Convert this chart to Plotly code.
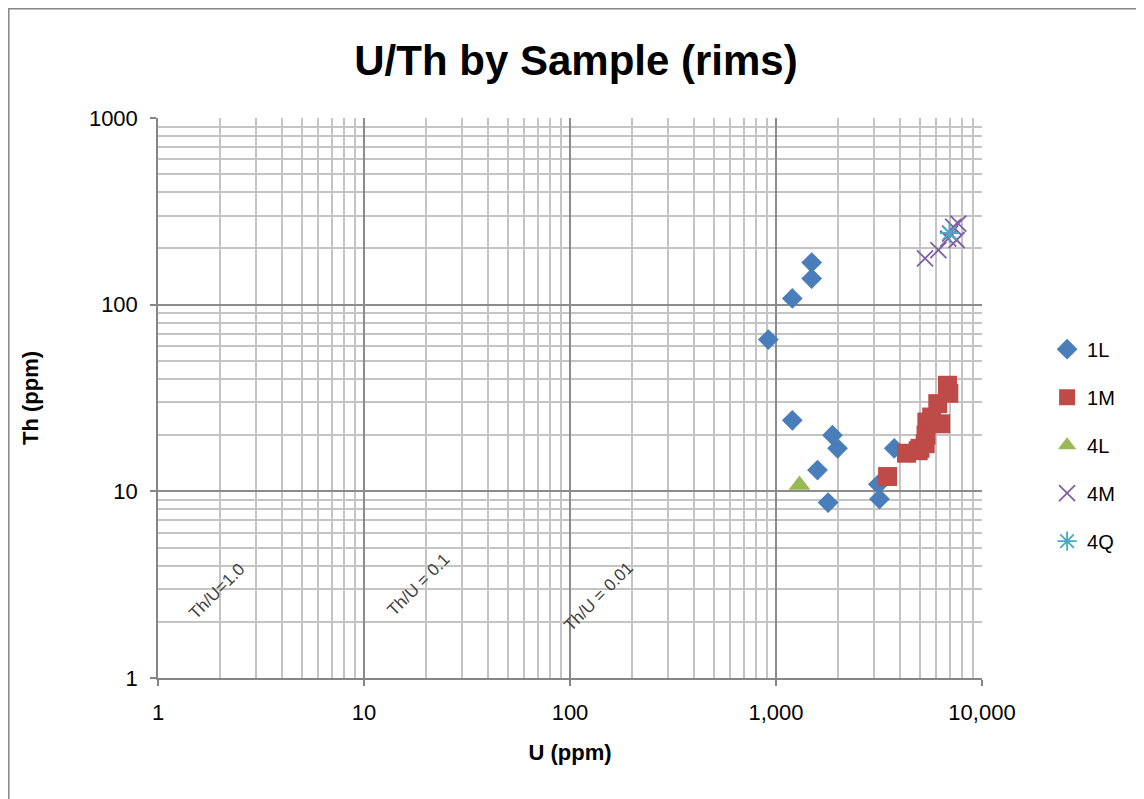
import math
import plotly.graph_objects as go

# ---- data ----
u_1L = [1490, 1490, 1200, 918, 1200, 1880, 1990, 1590, 1790, 3750, 3140, 3180]
th_1L = [168, 138, 108, 65, 24, 20, 17, 13, 8.7, 17, 10.9, 9.1]

u_1M = [3480, 4300, 4900, 5000, 5300, 5350, 5400, 6300, 6100, 6800, 6900, 5700]
th_1M = [12, 16, 16.5, 17, 18, 20, 23.5, 23, 29.5, 37, 33.5, 25]

u_4L = [1300]
th_4L = [10.8]

u_4M = [5290, 6140, 6860, 7670, 7250, 7530, 7000]
th_4M = [177, 196, 226, 272, 261, 222, 240]

u_4Q = [6950]
th_4Q = [242]

ratio_labels = ["Th/U=1.0", "Th/U = 0.1", "Th/U = 0.01"]
ratio_label_x = [1.93, 18.5, 138]
ratio_label_y = [2.9, 3.15, 2.73]

title_text = "U/Th by Sample (rims)"
x_title = "U (ppm)"
y_title = "Th (ppm)"
x_tickvals = [1, 10, 100, 1000, 10000]
x_ticktext = ["1", "10", "100", "1,000", "10,000"]
y_tickvals = [1, 10, 100, 1000]
y_ticktext = ["1", "10", "100", "1000"]

FONT = "Liberation Sans"

fig = go.Figure()
fig.add_trace(go.Scatter(x=u_1L, y=th_1L, mode="markers", name="1L", legendgroup="a",
                         marker=dict(symbol="diamond", size=16, color="#4a7ebb")))
fig.add_trace(go.Scatter(x=u_1M, y=th_1M, mode="markers", name="1M", legendgroup="b",
                         marker=dict(symbol="square", size=19, color="#be4b48")))
fig.add_trace(go.Scatter(x=u_4L, y=th_4L, mode="markers", name="4L", legendgroup="c",
                         marker=dict(symbol="triangle-up", size=19, color="#98b954")))
fig.add_trace(go.Scatter(x=u_4M, y=th_4M, mode="markers", name="4M", legendgroup="d",
                         marker=dict(symbol="x-thin", size=16, color="#7d60a0",
                                     line=dict(width=1.8, color="#7d60a0"))))
fig.add_trace(go.Scatter(x=u_4Q, y=th_4Q, mode="markers", name="4Q", legendgroup="e",
                         marker=dict(symbol="asterisk", size=16, color="#46aac5",
                                     line=dict(width=1.8, color="#46aac5"))))

for t, x, y in zip(ratio_labels, ratio_label_x, ratio_label_y):
    fig.add_annotation(x=math.log10(x), y=math.log10(y), xref="x", yref="y", text=t,
                       showarrow=False, textangle=-45,
                       font=dict(family=FONT, size=17, color="#404040"),
                       xanchor="center", yanchor="middle")

axis_common = dict(
    type="log", showline=True, linecolor="#868686", linewidth=1.5,
    showgrid=True, gridcolor="#8c8c8c", gridwidth=1.5,
    ticks="outside", ticklen=6, tickcolor="#868686", tickwidth=1.5,
    tickfont=dict(family=FONT, size=22, color="black"),
    ticklabelstandoff=8,
    zeroline=False, mirror=False,
    minor=dict(dtick="D1", showgrid=True, gridcolor="#c4c4c4", gridwidth=1.5, ticks=""),
)

fig.update_xaxes(range=[0, 4], tickmode="array", tickvals=x_tickvals, ticktext=x_ticktext,
                 title=dict(text="<b>" + x_title + "</b>", font=dict(family=FONT, size=22, color="black"),
                            standoff=20),
                 **axis_common)
fig.update_yaxes(range=[0, 3], tickmode="array", tickvals=y_tickvals, ticktext=y_ticktext,
                 title=dict(text="<b>" + y_title + "</b>", font=dict(family=FONT, size=22, color="black"),
                            standoff=44),
                 **axis_common)

# outer chart frame (page body has an 8px offset)
fig.add_shape(type="rect", xref="paper", yref="paper",
              x0=(0.8 - 150) / 824, x1=1.21, y0=-0.24, y1=(670 - 0.8) / 560,
              line=dict(color="#868686", width=1.5), fillcolor="rgba(0,0,0,0)", layer="below")

fig.update_layout(
    width=1144, height=799,
    margin=dict(l=150, r=170, t=110, b=129),
    paper_bgcolor="white", plot_bgcolor="white",
    title=dict(text="<b>" + title_text + "</b>", x=0.4965, xanchor="center", y=0.935, yanchor="middle",
               font=dict(family=FONT, size=42, color="black")),
    legend=dict(x=1.079, y=0.622, xanchor="left", yanchor="top",
                font=dict(family=FONT, size=20, color="black"),
                tracegroupgap=19, itemsizing="trace", bgcolor="rgba(0,0,0,0)"),
    showlegend=True,
)

fig.write_html("out.html")
